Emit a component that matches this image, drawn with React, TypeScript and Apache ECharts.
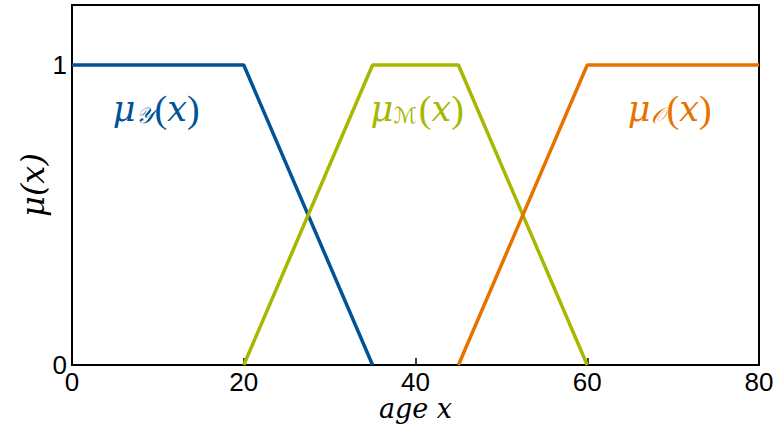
import React, { useEffect, useRef } from "react";
import * as echarts from "echarts";

const young: [number, number][] = [[0, 1], [20, 1], [35, 0]];
const middle: [number, number][] = [[20, 0], [35, 1], [45, 1], [60, 0]];
const old: [number, number][] = [[45, 0], [60, 1], [80, 1]];
const seriesNames = ["young", "middle", "old"];
const subscripts = ["𝒴", "ℳ", "𝒪"];
const labelPos: [number, number][] = [[9.8, 0.855], [40.2, 0.855], [69.6, 0.855]];
const colors = ["#005396", "#a6b800", "#e67300"];

const serif = "'DejaVu Serif', 'Liberation Serif', serif";
const sans = "'Liberation Sans', Arial, sans-serif";

function rich(color: string) {
  return {
    mu: { fontFamily: serif, fontStyle: "italic", fontSize: 35, color },
    sub: { fontFamily: "'DejaVu Sans', serif", fontStyle: "italic", fontSize: 22, color, padding: [14, 2, 0, 0] },
    p: { fontFamily: "'Liberation Serif', serif", fontSize: 38, color },
    x: { fontFamily: serif, fontStyle: "italic", fontSize: 35, color },
  };
}

export default function App() {
  const ref = useRef<HTMLDivElement>(null);
  useEffect(() => {
    if (!ref.current) return;
    const chart = echarts.init(ref.current, undefined, { renderer: "svg" });
    const datas = [young, middle, old];
    chart.setOption({
      animation: false,
      grid: {
        left: 72,
        right: 17,
        top: 5,
        bottom: 62,
        show: true,
        borderColor: "#000",
        borderWidth: 2,
        outerBoundsMode: "none",
        containLabel: false,
      },
      xAxis: {
        type: "value",
        min: 0,
        max: 80,
        interval: 20,
        name: "age x",
        nameLocation: "middle",
        nameGap: 30,
        nameMoveOverlap: false,
        nameTextStyle: { fontFamily: serif, fontStyle: "italic", fontSize: 27, lineHeight: 27, color: "#000" },
        axisLine: { show: true, lineStyle: { color: "#000", width: 2 } },
        axisTick: { show: true, inside: true, length: 7, lineStyle: { color: "#000", width: 1.5 } },
        axisLabel: { fontFamily: sans, fontSize: 26, lineHeight: 25, color: "#000", margin: 4 },
        splitLine: { show: false },
      },
      yAxis: {
        type: "value",
        min: 0,
        max: 1.2,
        interval: 1,
        name: "μ(x)",
        nameLocation: "middle",
        nameGap: 23,
        nameMoveOverlap: false,
        nameTextStyle: { fontFamily: serif, fontStyle: "italic", fontSize: 32, color: "#000" },
        axisLine: { show: true, lineStyle: { color: "#000", width: 2 } },
        axisTick: { show: true, inside: true, length: 7, lineStyle: { color: "#000", width: 1.5 } },
        axisLabel: {
          fontFamily: sans,
          fontSize: 26,
          color: "#000",
          margin: 5,
          formatter: (v: number) => (v === 0 || v === 1 ? String(v) : ""),
        },
        splitLine: { show: false },
      },
      series: datas.map((d, i) => ({
        name: seriesNames[i],
        type: "line",
        data: d,
        showSymbol: false,
        lineStyle: { color: colors[i], width: 3.5 },
        itemStyle: { color: colors[i] },
        markPoint: {
          symbolSize: 0,
          silent: true,
          data: [
            {
              coord: labelPos[i],
              label: {
                show: true,
                position: "inside",
                formatter: `{mu|μ}{sub|${subscripts[i]}}{p|(}{x|x}{p|)}`,
                rich: rich(colors[i]),
              },
            },
          ],
        },
      })),
    });
    return () => chart.dispose();
  }, []);
  return <div ref={ref} style={{ width: 776, height: 427, position: "absolute", left: 0, top: 0 }} />;
}
